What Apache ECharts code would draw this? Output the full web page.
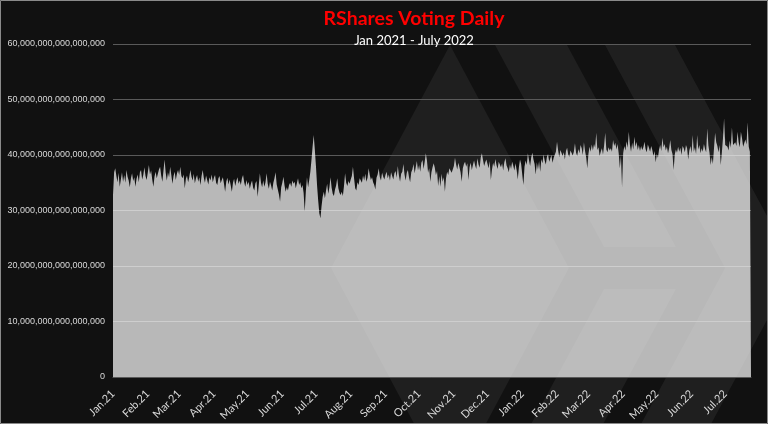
<!DOCTYPE html>
<html><head><meta charset="utf-8">
<script src="https://cdn.jsdelivr.net/npm/echarts@6/dist/echarts.min.js"></script>
<style>html,body{margin:0;padding:0;background:#111111;}#c{width:768px;height:424px;}</style>
</head><body><div id="c"></div>
<script>
// Daily RShares voted, in units of 1,000,000,000,000,000 (1e15)
const jan21=[32.8,36.9,37.6,36.2,35.1,36.8,34.3,35.6,36.9,35.2,36.4,35.0,37.3,36.1,35.4,34.2,35.8,36.7,35.3,36.0,34.3,35.7,36.5,35.1,36.9,37.3,35.6,36.4,37.8,36.2,35.5];
const feb21=[36.8,38.2,36.5,37.2,35.6,34.3,36.1,37.0,35.8,36.6,37.4,37.9,36.3,35.2,37.1,39.2,36.8,35.4,36.9,36.0,37.9,36.4,34.8,36.2,37.0,35.5,36.6,37.3];
const mar21=[36.4,37.9,36.2,35.8,36.5,34.0,35.7,36.3,35.1,36.0,37.3,36.1,35.4,36.6,34.9,35.8,36.4,35.2,36.0,34.6,36.2,37.3,35.9,35.0,36.3,35.5,34.7,36.0,35.4,36.5,35.1];
const apr21=[35.9,36.4,35.0,34.6,35.8,36.2,34.9,35.5,36.0,34.8,33.4,35.2,35.9,34.7,35.6,34.5,33.4,35.0,35.7,34.4,35.3,36.0,34.8,35.4,34.6,35.8,36.4,35.1,34.3,35.5];
const may21=[34.6,35.2,33.9,34.8,35.4,34.1,33.6,34.9,35.3,32.5,34.6,36.7,35.0,34.2,35.4,34.3,35.1,36.7,34.8,33.9,35.2,34.5,33.6,35.0,35.8,36.9,34.7,33.8,32.9,31.6,34.2];
const jun21=[35.0,36.1,34.5,33.4,34.2,33.6,34.6,35.0,34.3,35.4,34.8,35.2,34.0,34.9,35.8,34.6,35.1,34.0,34.6,33.2,29.8,33.5,36.0,34.2,35.5,37.0,39.1,41.5,43.6,41.0];
const jul21=[38.0,34.5,31.8,29.5,28.6,30.8,32.5,33.4,32.2,33.6,34.8,33.0,34.2,36.0,34.1,33.0,32.6,33.8,34.5,35.8,34.0,33.2,32.8,33.4,32.6,34.4,36.7,35.0,34.4,35.3,34.8];
const aug21=[35.6,36.2,37.9,35.8,34.0,33.6,35.1,34.6,35.8,36.1,35.0,36.3,35.4,36.6,35.2,35.9,37.6,36.4,35.5,36.0,35.1,34.6,33.8,35.9,36.5,37.6,36.0,35.4,36.8,36.1,35.6];
const sep21=[36.4,37.0,35.8,36.5,35.4,36.9,36.2,35.6,36.7,37.1,35.9,38.0,36.3,35.2,36.6,37.0,38.4,36.5,35.4,36.8,37.3,36.0,35.1,36.9,37.4,38.4,36.7,37.8,38.9,37.2];
const oct21=[38.2,37.0,38.6,39.1,37.5,38.8,40.3,39.0,36.8,37.6,35.2,36.9,37.8,38.5,37.7,36.4,37.1,34.4,36.2,34.3,36.6,35.2,36.0,33.4,35.8,37.0,36.4,37.6,37.9,36.8,37.4];
const nov21=[38.0,39.5,38.3,37.4,38.6,37.8,36.9,35.2,37.6,38.4,38.8,37.9,38.5,35.5,37.8,38.6,37.3,38.2,39.0,38.1,37.5,39.4,38.3,37.7,39.6,40.3,39.1,38.0,38.7,39.2];
const dec21=[38.4,37.6,38.9,35.5,37.4,38.6,37.9,39.3,38.2,37.5,38.8,39.0,37.8,38.5,37.2,38.7,39.4,38.1,37.6,36.9,38.3,37.5,38.8,38.0,37.2,38.5,37.3,35.6,37.8,39.2,38.4];
const jan22=[38.6,34.6,37.9,39.0,38.2,40.3,39.1,38.0,39.6,40.4,39.2,38.4,36.5,38.7,37.4,38.9,37.0,39.3,38.5,40.1,39.0,38.3,39.7,40.2,38.8,39.4,40.0,38.6,39.5,39.4,40.6];
const feb22=[42.4,40.8,39.6,40.9,41.2,39.8,40.5,39.2,40.7,41.3,40.1,39.7,40.8,41.0,39.9,40.6,42.1,40.4,39.8,41.1,40.3,41.8,41.2,40.0,42.3,40.7,39.6,37.6];
const mar22=[40.2,41.5,40.6,41.9,40.8,42.0,41.3,44.0,40.9,41.4,39.8,40.6,41.2,40.1,41.7,44.0,41.0,40.5,41.4,40.8,41.2,40.6,42.7,41.6,42.2,41.0,42.0,40.3,37.6,39.8,34.2];
const apr22=[40.3,41.6,40.8,42.5,41.3,44.2,41.9,40.6,42.2,41.0,43.3,41.5,42.4,40.9,41.8,40.7,41.6,40.9,41.4,42.4,41.1,40.5,41.9,41.3,40.6,41.6,40.9,39.8,40.7,38.7];
const may22=[40.2,39.5,41.0,41.8,40.7,43.1,41.4,42.0,40.8,41.5,40.3,41.2,42.7,40.9,40.2,37.3,40.1,41.0,40.4,41.5,40.6,41.3,40.0,41.6,41.2,40.5,41.8,41.2,39.2,40.8,41.6];
const jun22=[40.3,43.6,40.6,41.4,40.2,43.6,41.0,41.8,40.3,41.2,40.6,42.0,41.1,40.5,44.8,41.7,40.4,38.2,39.6,38.4,41.2,44.0,42.3,41.6,40.5,41.8,38.2,40.4,43.0,46.6];
const jul22=[41.8,42.0,41.5,40.8,42.6,41.3,45.0,41.8,41.5,42.3,41.6,44.2,42.3,41.4,44.2,43.0,41.5,41.7,42.8,41.9,45.9,41.5,40.6,40.9];

const monthArrays=[jan21,feb21,mar21,apr21,may21,jun21,jul21,aug21,sep21,oct21,nov21,dec21,jan22,feb22,mar22,apr22,may22,jun22,jul22];
const monthNames=['Jan','Feb','Mar','Apr','May','Jun','Jul','Aug','Sep','Oct','Nov','Dec'];
const startYear=2021;
const yTicks=[0,10,20,30,40,50,60];
const titleText='RShares Voting Daily';
const subtitleText='Jan 2021 - July 2022';

const categories=[];
const values=[];
monthArrays.forEach(function(arr,i){
  const yr=startYear+Math.floor(i/12), mo=i%12;
  arr.forEach(function(v,j){
    categories.push(yr+'-'+String(mo+1).padStart(2,'0')+'-'+String(j+1).padStart(2,'0'));
    values.push(v);
  });
});

const wm='rgba(255,255,255,0.06)';
const chart=echarts.init(document.getElementById('c'),null,{renderer:'canvas'});
chart.setOption({
  animation:false,
  backgroundColor:'#111111',
  title:[
    {text:titleText,left:409,top:4,textAlign:'center',textStyle:{color:'#ff0000',fontWeight:'bold',fontSize:19.5,fontFamily:'Lato'}},
    {text:subtitleText,left:409,top:29,textAlign:'center',textStyle:{color:'#ffffff',fontWeight:'normal',fontSize:13,fontFamily:'Lato'}}
  ],
  grid:{left:113,right:17,top:44,bottom:47,containLabel:false},
  xAxis:{
    type:'category',data:categories,boundaryGap:false,
    axisLine:{show:true,lineStyle:{color:'#595959'}},
    axisTick:{show:false},
    axisLabel:{
      interval:function(i,v){return v.slice(8)==='01';},
      formatter:function(v){return monthNames[+v.slice(5,7)-1]+'.'+v.slice(2,4);},
      rotate:45,color:'#d9d9d9',fontSize:11,margin:15,fontFamily:'Lato'
    },
    splitLine:{show:false}
  },
  yAxis:{
    type:'value',min:yTicks[0],max:yTicks[yTicks.length-1],interval:10,
    axisLine:{show:false},axisTick:{show:false},
    axisLabel:{formatter:function(v){return v===0?'0':v+',000,000,000,000,000';},color:'#d9d9d9',fontSize:9,margin:8,fontFamily:'Liberation Sans'},
    splitLine:{lineStyle:{color:'#5a5a5a',width:1}}
  },
  graphic:[
    {type:'polygon',z:-1,silent:true,shape:{points:[[450,45],[331,268],[450,491],[569,268]]},style:{fill:wm}},
    {type:'polygon',z:-1,silent:true,shape:{points:[[495,45],[567,45],[676,247],[604,247]]},style:{fill:wm}},
    {type:'polygon',z:-1,silent:true,shape:{points:[[604,289],[676,289],[567,491],[495,491]]},style:{fill:wm}},
    {type:'polygon',z:-1,silent:true,shape:{points:[[605,45],[675,45],[795,268],[675,491],[605,491],[725,268]]},style:{fill:wm}},
    {type:'rect',z:100,silent:true,shape:{x:0.5,y:0.5,width:767,height:423},style:{fill:'none',stroke:'#8a8a8a',lineWidth:1}}
  ],
  series:[{
    type:'line',data:values,showSymbol:false,symbol:'none',
    lineStyle:{width:0},
    areaStyle:{color:'#ffffff',opacity:0.7},
    z:3
  }]
});
</script>
</body></html>
